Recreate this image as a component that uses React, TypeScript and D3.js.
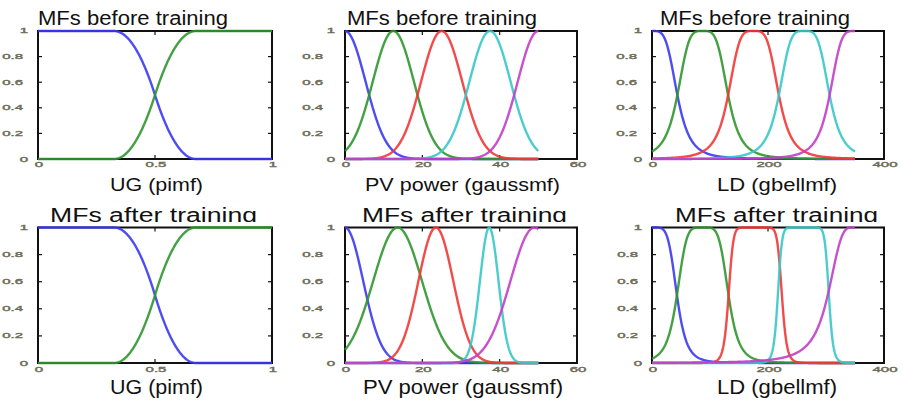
import React from "react";
import * as d3 from "d3";

// ---------- data (membership-function parameters) ----------
// pimf: [a, b, c, d]
const ugBefore = [
  [-0.675, -0.325, 0.325, 0.675],
  [0.325, 0.675, 1.325, 1.675],
];
const ugAfter = [
  [-0.675, -0.325, 0.325, 0.675],
  [0.325, 0.675, 1.325, 1.675],
];
// gaussmf: [sigma, c]
const pvBefore = [
  [5.31, 0],
  [5.31, 12.5],
  [5.31, 25],
  [5.31, 37.5],
  [5.31, 50],
];
const pvAfter = [
  [4.7, 0],
  [6.3, 13.6],
  [4.5, 23.5],
  [2.4, 37.3],
  [6.2, 49],
];
// gbellmf: [a, b, c]
const ldBefore = [
  [43.75, 2, 0],
  [43.75, 2, 87.5],
  [43.75, 2, 175],
  [43.75, 2, 262.5],
  [43.75, 2, 350],
];
const ldAfter = [
  [43, 2.6, 0],
  [44.5, 2.5, 87.5],
  [46, 5.5, 178],
  [44, 6, 261],
  [42, 1.53, 345],
];

const ugInput = [0, 1];
const pvInput = [0, 50];
const ldInput = [0, 350];
const ugAxis = [0, 1];
const pvAxis = [0, 60];
const ldAxis = [0, 400];
const ugTicks = [0, 0.5, 1];
const pvTicks = [0, 20, 40, 60];
const ldTicks = [0, 200, 400];
const yTicks = [0, 0.2, 0.4, 0.6, 0.8, 1];

const titles = ["MFs before training", "MFs after training"];
const xLabels = ["UG (pimf)", "PV power (gaussmf)", "LD (gbellmf)"];

// ---------- membership functions ----------
function smf(x: number, a: number, b: number) {
  if (x <= a) return 0;
  if (x >= b) return 1;
  const m = (a + b) / 2;
  if (x <= m) return 2 * ((x - a) / (b - a)) ** 2;
  return 1 - 2 * ((x - b) / (b - a)) ** 2;
}
function pimf(x: number, p: number[]) {
  return smf(x, p[0], p[1]) * (1 - smf(x, p[2], p[3]));
}
function gaussmf(x: number, p: number[]) {
  return Math.exp(-((x - p[1]) ** 2) / (2 * p[0] * p[0]));
}
function gbellmf(x: number, p: number[]) {
  return 1 / (1 + Math.pow(Math.abs((x - p[2]) / p[0]), 2 * p[1]));
}

const colors = ["#3a3af2", "#2f962f", "#f23636", "#38c8c8", "#c23ec8"];
const FONT = "'Liberation Sans', Arial, Helvetica, sans-serif";
const TICKCOL = "#6e6e58";

type Panel = {
  x0: number; x1: number; y0: number; y1: number;
  axis: number[]; input: number[]; ticks: number[];
  params: number[][]; fn: (x: number, p: number[]) => number;
  title: string; tX: number; tW: number; tY: number; tSize: number;
  label: string; lX: number; lW: number; lY: number; lSize: number;
  yOff: number; xTickDy: number; clipTitle: boolean;
};

const panels: Panel[] = [
  { x0: 38, x1: 272, y0: 31, y1: 159, axis: ugAxis, input: ugInput, ticks: ugTicks, params: ugBefore, fn: pimf,
    title: titles[0], tX: 38, tW: 190, tY: 25, tSize: 20, label: xLabels[0], lX: 110, lW: 93, lY: 191, lSize: 19, yOff: 15, xTickDy: 6.5, clipTitle: false },
  { x0: 345, x1: 577, y0: 31, y1: 159, axis: pvAxis, input: pvInput, ticks: pvTicks, params: pvBefore, fn: gaussmf,
    title: titles[0], tX: 347, tW: 190, tY: 25, tSize: 20, label: xLabels[1], lX: 365, lW: 195, lY: 191, lSize: 19, yOff: 22, xTickDy: 6.5, clipTitle: false },
  { x0: 652, x1: 884, y0: 31, y1: 159, axis: ldAxis, input: ldInput, ticks: ldTicks, params: ldBefore, fn: gbellmf,
    title: titles[0], tX: 660, tW: 190, tY: 25, tSize: 20, label: xLabels[2], lX: 717, lW: 120, lY: 191, lSize: 19, yOff: 15, xTickDy: 6.5, clipTitle: false },
  { x0: 38, x1: 272, y0: 227.5, y1: 363, axis: ugAxis, input: ugInput, ticks: ugTicks, params: ugAfter, fn: pimf,
    title: titles[1], tX: 50, tW: 207, tY: 222, tSize: 20, label: xLabels[0], lX: 110, lW: 93, lY: 394, lSize: 21, yOff: 15, xTickDy: 7.5, clipTitle: true },
  { x0: 345, x1: 577, y0: 227.5, y1: 363, axis: pvAxis, input: pvInput, ticks: pvTicks, params: pvAfter, fn: gaussmf,
    title: titles[1], tX: 362, tW: 205, tY: 222, tSize: 20, label: xLabels[1], lX: 363, lW: 200, lY: 394, lSize: 21, yOff: 22, xTickDy: 7.5, clipTitle: true },
  { x0: 652, x1: 884, y0: 227.5, y1: 363, axis: ldAxis, input: ldInput, ticks: ldTicks, params: ldAfter, fn: gbellmf,
    title: titles[1], tX: 675, tW: 203, tY: 222, tSize: 20, label: xLabels[2], lX: 717, lW: 120, lY: 394, lSize: 21, yOff: 14, xTickDy: 7.5, clipTitle: true },
];

function TickText({ x, y, text, anchor }: { x: number; y: number; text: string; anchor: string }) {
  return (
    <text
      transform={`translate(${x},${y}) scale(2,1)`}
      textAnchor={anchor as any}
      dominantBaseline="middle"
      fontSize={7.5}
      fontFamily={FONT}
      fill={TICKCOL}
      stroke={TICKCOL}
      strokeWidth={0.4}
    >
      {text}
    </text>
  );
}

function PanelView({ p }: { p: Panel }) {
  const xs = d3.scaleLinear().domain(p.axis).range([p.x0, p.x1]);
  const ys = d3.scaleLinear().domain([0, 1]).range([p.y1, p.y0]);
  const samples = d3.range(0, 401).map((i) => p.input[0] + ((p.input[1] - p.input[0]) * i) / 400);
  const line = d3.line<number>().x((d) => xs(d));
  const fmtX = (v: number) => String(v);
  const fmtY = (v: number) => (v === 0 || v === 1 ? String(v) : v.toFixed(1));
  const tl = 4;
  return (
    <g>
      <rect x={p.x0} y={p.y0} width={p.x1 - p.x0} height={p.y1 - p.y0} fill="#fff" stroke="#111" strokeWidth={2} />
      {p.ticks.map((t) => (
        <g key={"xt" + t}>
          <line x1={xs(t)} x2={xs(t)} y1={p.y1} y2={p.y1 - tl} stroke="#111" strokeWidth={1.2} />
          <line x1={xs(t)} x2={xs(t)} y1={p.y0} y2={p.y0 + tl} stroke="#111" strokeWidth={1.2} />
        </g>
      ))}
      {yTicks.map((t) => (
        <g key={"yt" + t}>
          <line x1={p.x0} x2={p.x0 + tl} y1={ys(t)} y2={ys(t)} stroke="#111" strokeWidth={1.2} />
          <line x1={p.x1} x2={p.x1 - tl} y1={ys(t)} y2={ys(t)} stroke="#111" strokeWidth={1.2} />
        </g>
      ))}
      {p.params.map((par, i) => (
        <path
          key={"c" + i}
          d={line.y((d) => ys(p.fn(d, par)))(samples) || ""}
          fill="none"
          stroke={colors[i]}
          strokeWidth={2.4}
          strokeOpacity={0.9}
        />
      ))}
      {p.ticks.map((t) => (
        <TickText key={"xl" + t} x={xs(t) + 1} y={p.y1 + p.xTickDy} text={fmtX(t)} anchor="middle" />
      ))}
      {yTicks.map((t) => (
        <TickText
          key={"yl" + t}
          x={p.x0 - (t === 0 || t === 1 ? 10 : p.yOff)}
          y={ys(t) + (t === 0 ? 1 : 0.5)}
          text={fmtY(t)}
          anchor="end"
        />
      ))}
      <text
        x={p.tX}
        y={p.tY}
        fontSize={p.tSize}
        fontFamily={FONT}
        fill="#111"
        textLength={p.tW}
        lengthAdjust="spacingAndGlyphs"
        clipPath={p.clipTitle ? "url(#titleClip)" : undefined}
      >
        {p.title}
      </text>
      <text
        x={p.lX}
        y={p.lY}
        fontSize={p.lSize}
        fontFamily={FONT}
        fill="#111"
        textLength={p.lW}
        lengthAdjust="spacingAndGlyphs"
      >
        {p.label}
      </text>
    </g>
  );
}

export default function App() {
  return (
    <svg width={903} height={402} style={{ position: "absolute", left: 0, top: 0, background: "#fff" }}>
      <defs>
        <clipPath id="titleClip" clipPathUnits="userSpaceOnUse">
          <rect x={0} y={195} width={903} height={27} />
        </clipPath>
      </defs>
      <rect x={0} y={0} width={903} height={402} fill="#fff" />
      {panels.map((p, i) => (
        <PanelView key={i} p={p} />
      ))}
    </svg>
  );
}
